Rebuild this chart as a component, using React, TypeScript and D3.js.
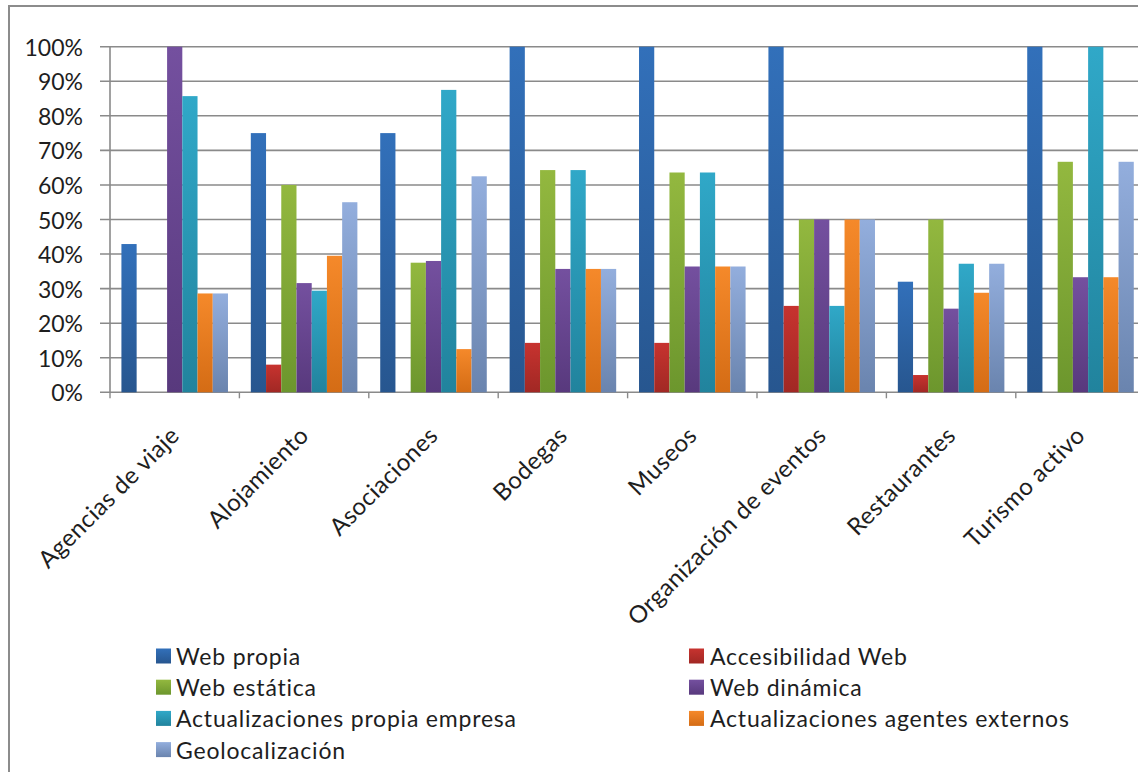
import React from "react";
import * as d3 from "d3";

const categories = [
  "Agencias de viaje",
  "Alojamiento",
  "Asociaciones",
  "Bodegas",
  "Museos",
  "Organización de eventos",
  "Restaurantes",
  "Turismo activo",
];

const seriesNames = [
  "Web propia",
  "Accesibilidad Web",
  "Web estática",
  "Web dinámica",
  "Actualizaciones propia empresa",
  "Actualizaciones agentes externos",
  "Geolocalización",
];

// Percentages per category, one array per series
const webPropia = [42.9, 75, 75, 100, 100, 100, 32, 100];
const accesibilidadWeb = [0, 8, 0, 14.3, 14.3, 25, 5, 0];
const webEstatica = [0, 60, 37.5, 64.3, 63.6, 50, 50, 66.7];
const webDinamica = [100, 31.6, 38, 35.7, 36.4, 50, 24.2, 33.3];
const actPropiaEmpresa = [85.7, 29.4, 87.5, 64.3, 63.6, 25, 37.2, 100];
const actAgentesExternos = [28.6, 39.5, 12.5, 35.7, 36.4, 50, 28.8, 33.3];
const geolocalizacion = [28.6, 55, 62.5, 35.7, 36.4, 50, 37.2, 66.7];

const yTicks = [0, 10, 20, 30, 40, 50, 60, 70, 80, 90, 100];

const seriesValues = [
  webPropia,
  accesibilidadWeb,
  webEstatica,
  webDinamica,
  actPropiaEmpresa,
  actAgentesExternos,
  geolocalizacion,
];

// Top / bottom gradient stops for each series
const colorsTop = ["#3270ba", "#c7332f", "#93b83f", "#74509f", "#30a8c8", "#f5892a", "#93aedd"];
const colorsBottom = ["#27568f", "#a12824", "#6c962d", "#58397d", "#21839d", "#d46c15", "#6a84ae"];

const W = 1138;
const H = 772;
const FONT = "Lato, 'Open Sans', sans-serif";

export default function App() {
  const left = 110;
  const catStep = 129.4;
  const right = left + catStep * categories.length;
  const top = 46.7;
  const bottom = 392.3;

  const x = d3.scaleBand<string>().domain(categories).range([left, right]).padding(0);
  const xInner = d3
    .scaleBand<string>()
    .domain(seriesNames)
    .range([0, x.bandwidth()])
    .paddingInner(0)
    .paddingOuter(0.75);
  const y = d3.scaleLinear().domain([0, 100]).range([bottom, top]);

  const legendLeft = seriesNames.filter((_, i) => i % 2 === 0);
  const legendRight = seriesNames.filter((_, i) => i % 2 === 1);
  const legendRowY = (r: number) => 656 + r * 31.2;

  return (
    <svg
      width={W}
      height={H}
      style={{
        position: "absolute",
        left: 0,
        top: 0,
        background: "#fff",
        fontVariantLigatures: "none",
      }}
      fontFamily={FONT}
    >
      <defs>
        {seriesNames.map((s, i) => (
          <linearGradient key={s} id={`g${i}`} x1="0" y1="0" x2="0" y2="1">
            <stop offset="0" stopColor={colorsTop[i]} />
            <stop offset="1" stopColor={colorsBottom[i]} />
          </linearGradient>
        ))}
      </defs>

      {/* chart frame */}
      <rect x={9} y={6} width={W + 20} height={H + 20} fill="#fff" stroke="#8c8c8c" strokeWidth={2} />

      {/* horizontal gridlines and y ticks */}
      {yTicks.map((t) => (
        <g key={t}>
          <line x1={left - 10} x2={W} y1={y(t)} y2={y(t)} stroke="#8a8a8a" strokeWidth={1.6} />
          <text
            x={83}
            y={y(t)}
            textAnchor="end"
            dominantBaseline="central"
            fontSize={23}
            fill="#1e1e1e"
          >
            {t}%
          </text>
        </g>
      ))}

      {/* y axis */}
      <line x1={left} x2={left} y1={top} y2={bottom} stroke="#8a8a8a" strokeWidth={1.6} />

      {/* category ticks */}
      {categories.map((c) => (
        <line
          key={c}
          x1={x(c) as number}
          x2={x(c) as number}
          y1={bottom}
          y2={bottom + 6}
          stroke="#8a8a8a"
          strokeWidth={1.4}
        />
      ))}

      {/* bars */}
      {seriesNames.map((s, si) =>
        categories.map((c, ci) => {
          const v = seriesValues[si][ci];
          if (v <= 0) return null;
          const bx = (x(c) as number) + (xInner(s) as number);
          return (
            <rect
              key={`${s}-${c}`}
              x={bx}
              y={y(v)}
              width={xInner.bandwidth()}
              height={bottom - y(v)}
              fill={`url(#g${si})`}
            />
          );
        })
      )}

      {/* category labels */}
      {categories.map((c) => {
        const cx = (x(c) as number) + x.bandwidth() / 2 + 6;
        return (
          <text
            key={c}
            transform={`translate(${cx},${437}) rotate(-45)`}
            textAnchor="end"
            fontSize={24}
            letterSpacing={0.4}
            fill="#1e1e1e"
          >
            {c}
          </text>
        );
      })}

      {/* legend */}
      {legendLeft.map((s, r) => {
        const i = seriesNames.indexOf(s);
        return (
          <g key={s} transform={`translate(156,${legendRowY(r)})`}>
            <rect x={0} y={-7.5} width={15} height={15} fill={`url(#g${i})`} />
            <text
              x={20}
              y={0}
              dominantBaseline="central"
              fontSize={23}
              letterSpacing={0.8}
              fill="#1e1e1e"
            >
              {s}
            </text>
          </g>
        );
      })}
      {legendRight.map((s, r) => {
        const i = seriesNames.indexOf(s);
        return (
          <g key={s} transform={`translate(689,${legendRowY(r)})`}>
            <rect x={0} y={-7.5} width={15} height={15} fill={`url(#g${i})`} />
            <text
              x={21}
              y={0}
              dominantBaseline="central"
              fontSize={23}
              letterSpacing={0.8}
              fill="#1e1e1e"
            >
              {s}
            </text>
          </g>
        );
      })}
    </svg>
  );
}
